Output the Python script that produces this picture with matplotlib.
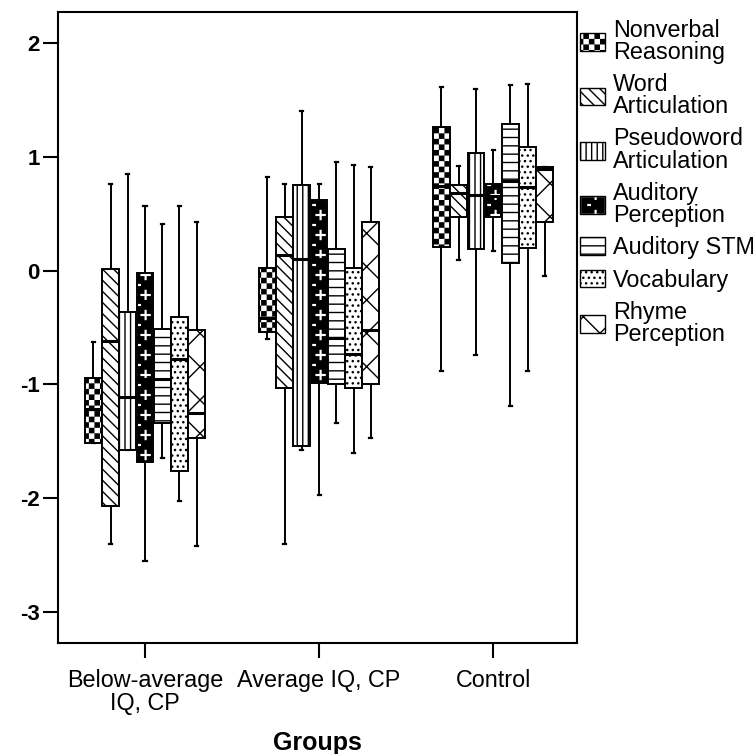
import numpy as np
import matplotlib
matplotlib.use('Agg')
import matplotlib.pyplot as plt
import matplotlib.hatch as mhatch
from matplotlib.path import Path
from matplotlib.patches import Patch, PathPatch

plt.rcParams['font.family'] = ['Liberation Sans', 'DejaVu Sans']
plt.rcParams['hatch.linewidth'] = 1.0

# data (z-scores)
groups = ['Below-average\nIQ, CP', 'Average IQ, CP', 'Control']
measures = ['Nonverbal\nReasoning', 'Word\nArticulation', 'Pseudoword\nArticulation',
            'Auditory\nPerception', 'Auditory STM', 'Vocabulary', 'Rhyme\nPerception']

# rows = groups, columns = measures
whishi = [[-0.63, 0.76, 0.85, 0.57, 0.41, 0.57, 0.43],
          [0.82, 0.76, 1.40, 0.76, 0.95, 0.93, 0.91],
          [1.61, 0.92, 1.59, 1.06, 1.63, 1.64, 0.91]]
q3 = [[-0.94, 0.01, -0.36, -0.02, -0.51, -0.41, -0.52],
      [0.02, 0.47, 0.75, 0.62, 0.19, 0.02, 0.43],
      [1.26, 0.75, 1.03, 0.76, 1.29, 1.08, 0.91]]
med = [[-1.22, -0.62, -1.11, -0.95, -0.95, -0.78, -1.25],
       [-0.42, 0.14, 0.10, 0.10, -0.59, -0.73, -0.52],
       [0.74, 0.68, 0.66, 0.65, 0.79, 0.73, 0.89]]
q1 = [[-1.51, -2.07, -1.58, -1.68, -1.34, -1.76, -1.47],
      [-0.54, -1.03, -1.54, -0.99, -1.00, -1.03, -1.00],
      [0.21, 0.47, 0.19, 0.47, 0.07, 0.20, 0.43]]
whislo = [[-1.51, -2.40, -1.58, -2.55, -1.65, -2.02, -2.42],
          [-0.60, -2.40, -1.58, -1.97, -1.34, -1.60, -1.47],
          [-0.88, 0.09, -0.74, 0.17, -1.19, -0.88, -0.05]]


# custom hatches: 'O' -> checkerboard, '*' -> plus / minus signs
class CheckerHatch(mhatch.HatchPatternBase):
    def __init__(self, hatch, density):
        self.n = hatch.count('O') * 18
        self.cells = [(i, j) for i in range(self.n) for j in range(self.n) if (i + j) % 2 == 0]
        self.num_vertices = len(self.cells) * 5

    def set_vertices_and_codes(self, vertices, codes):
        s = 1.0 / self.n
        d = 0.12 * s
        vs = []
        for i, j in self.cells:
            x0, y0, x1, y1 = i * s + d, j * s + d, (i + 1) * s - d, (j + 1) * s - d
            vs += [(x0, y0), (x1, y0), (x1, y1), (x0, y1), (x0, y0)]
        vertices[:] = vs
        codes[:] = [Path.MOVETO, Path.LINETO, Path.LINETO, Path.LINETO, Path.CLOSEPOLY] * len(self.cells)


class PlusMinusHatch(mhatch.HatchPatternBase):
    # 4 columns x 5 rows per tile, phase picked so the plus signs sit in the boxes
    def __init__(self, hatch, density):
        self.nx = hatch.count('*') * 4
        self.ny = hatch.count('*') * 5
        self.num_vertices = self.nx * self.ny * 18

    def set_vertices_and_codes(self, vertices, codes):
        cw, ch = 1.0 / self.nx, 1.0 / self.ny
        a, t, m = 0.045, 0.004, 0.012
        vs, cs = [], []
        for i in range(self.nx):
            for j in range(self.ny):
                cx, cy = (i + 0.824) * cw, (j + 0.25) * ch
                vs += [(cx - t, cy - a), (cx + t, cy - a), (cx + t, cy - t), (cx + a, cy - t),
                       (cx + a, cy + t), (cx + t, cy + t), (cx + t, cy + a), (cx - t, cy + a),
                       (cx - t, cy + t), (cx - a, cy + t), (cx - a, cy - t), (cx - t, cy - t),
                       (cx - t, cy - a)]
                cs += [Path.MOVETO] + [Path.LINETO] * 11 + [Path.CLOSEPOLY]
                mx, my = (i + 0.564) * cw, (j + 0.75) * ch
                vs += [(mx - m, my - t), (mx + m, my - t), (mx + m, my + t), (mx - m, my + t), (mx - m, my - t)]
                cs += [Path.MOVETO, Path.LINETO, Path.LINETO, Path.LINETO, Path.CLOSEPOLY]
        vertices[:] = vs
        codes[:] = cs


mhatch._hatch_types = [CheckerHatch if h is mhatch.LargeCircles else
                       PlusMinusHatch if h is mhatch.Stars else h
                       for h in mhatch._hatch_types]

hatches = ['O', '\\\\\\', '|||', '*', '--', '...', 'x']
faces = ['white', 'white', 'white', 'black', 'white', 'white', 'white']

fig = plt.figure(figsize=(7.55, 7.54), dpi=100)
ax = fig.add_axes([0.0768, 0.1472, 0.687, 0.837])

step = 0.099
stats = []
positions = []
for g in range(len(groups)):
    for k in range(len(measures)):
        stats.append(dict(med=med[g][k], q1=q1[g][k], q3=q3[g][k],
                          whislo=whislo[g][k], whishi=whishi[g][k], fliers=[]))
        positions.append(g + (k - 3) * step)

bp = ax.bxp(stats, positions=positions, widths=0.096, patch_artist=True,
            showfliers=False, capwidths=0.018,
            boxprops=dict(linewidth=1.4, edgecolor='black'),
            whiskerprops=dict(linewidth=1.4, color='black', zorder=1.5),
            capprops=dict(linewidth=1.6, color='black', zorder=1.5),
            medianprops=dict(linewidth=2.2, color='black'))

for idx, box in enumerate(bp['boxes']):
    k = idx % len(measures)
    box.set_hatch(hatches[k])
    box.set_facecolor(faces[k])
    if faces[k] == 'black':
        box.set_edgecolor('white')
        ax.add_patch(PathPatch(box.get_path(), fill=False, edgecolor='black',
                               linewidth=1.4, zorder=2.05))

ax.set_xlim(-0.5, 2.48)
ax.set_ylim(-3.27, 2.27)
ax.set_xticks(range(len(groups)))
ax.set_xticklabels(groups, fontsize=16.8)
for t in ax.get_xticklabels():
    t.set_linespacing(0.95)
ax.set_yticks([-3, -2, -1, 0, 1, 2])
ax.set_yticklabels(['-3', '-2', '-1', '0', '1', '2'], fontsize=16, fontweight='bold')
ax.tick_params(axis='both', length=11, width=1.5, direction='out')
ax.tick_params(axis='x', pad=8)
ax.tick_params(axis='y', pad=2)
for s in ax.spines.values():
    s.set_linewidth(1.5)
ax.set_xlabel('Groups', fontsize=18, fontweight='bold', labelpad=12)

handles = []
for k in range(len(measures)):
    if faces[k] == 'black':
        handles.append((Patch(facecolor='black', edgecolor='white', hatch=hatches[k], linewidth=1.0),
                        Patch(fill=False, edgecolor='black', linewidth=1.0)))
    else:
        handles.append(Patch(facecolor='white', edgecolor='black', hatch=hatches[k], linewidth=1.0))
leg = ax.legend(handles, measures, loc='upper left', bbox_to_anchor=(1.0, 0.995),
                borderaxespad=0.15, frameon=False, fontsize=16.8, borderpad=0.0,
                handlelength=1.05, handleheight=0.8, handletextpad=0.35, labelspacing=0.4)
for t in leg.get_texts():
    t.set_linespacing(0.95)

fig.savefig('out.png', dpi=100)
